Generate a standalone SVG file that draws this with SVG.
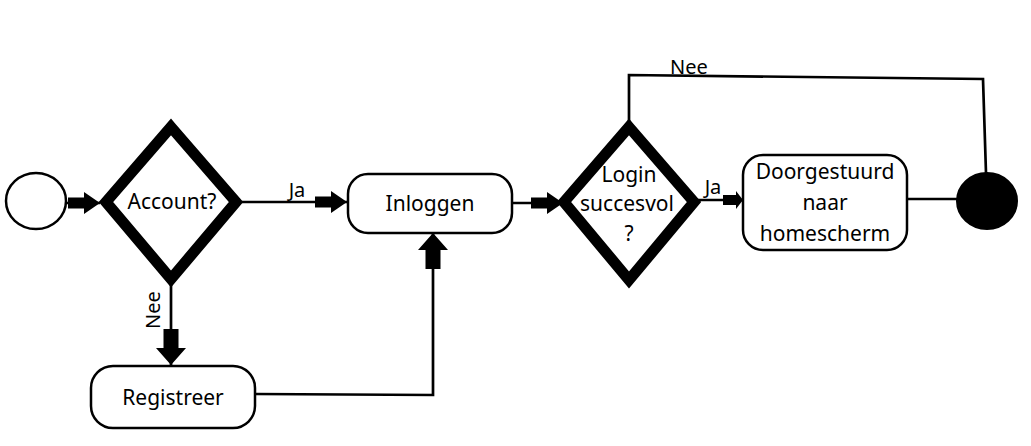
<svg xmlns="http://www.w3.org/2000/svg" width="1031" height="446" viewBox="0 0 1031 446">
<style>
text{font-family:"Noto Sans","Open Sans",sans-serif;font-size:21px;fill:#000;text-anchor:middle;dominant-baseline:central}
.box{fill:#fff;stroke:#000;stroke-width:2.5}
.dia{fill:#fff;stroke:#000;stroke-width:11;stroke-linejoin:miter;stroke-miterlimit:10}
.ln{fill:none;stroke:#000;stroke-width:2.7}
.lbl{font-size:20px}
</style>
<defs>
<marker id="big" markerUnits="userSpaceOnUse" markerWidth="40" markerHeight="40" viewBox="-34 -20 40 40" refX="0" refY="0" orient="auto" overflow="visible">
<path d="M-32,-5.5 H-16 V-11 L0,0 L-16,11 V5.5 H-32 Z" fill="#000"/>
</marker>
<marker id="small" markerUnits="userSpaceOnUse" markerWidth="30" markerHeight="30" viewBox="-24 -15 30 30" refX="0" refY="0" orient="auto" overflow="visible">
<path d="M-20,-5 H-7 V-9 L0,0 L-7,9 V5 H-20 Z" fill="#000"/>
</marker>
<marker id="down" markerUnits="userSpaceOnUse" markerWidth="40" markerHeight="40" viewBox="-40 -20 40 40" refX="0" refY="0" orient="auto" overflow="visible">
<path d="M-36,-7.5 H-17 V-15 L0,0 L-17,15 V7.5 H-36 Z" fill="#000"/>
</marker>
</defs>

<g id="connectors">
<path class="ln" d="M66,203 H100" marker-end="url(#big)"/>
<path class="ln" d="M242,202 H347" marker-end="url(#big)"/>
<path class="ln" d="M513,203 H563" marker-end="url(#big)"/>
<path class="ln" d="M698,200 H743" marker-end="url(#small)"/>
<path class="ln" d="M907,199 H958"/>
<path class="ln" d="M629,122 V75 L983,79 L986,173"/>
<path class="ln" d="M171,285 V365" marker-end="url(#down)"/>
<path class="ln" d="M255,394 L433,395 V233" marker-end="url(#down)"/>
<text class="lbl" x="297" y="189">Ja</text>
<text class="lbl" x="713" y="186">Ja</text>
<text class="lbl" x="689" y="66">Nee</text>
<text class="lbl" transform="translate(152,310) rotate(-90)">Nee</text>
</g>

<g id="start"><ellipse cx="36" cy="201" rx="30" ry="28" fill="#fff" stroke="#000" stroke-width="2.5"/></g>

<g id="account">
<polygon class="dia" points="171,127 236,202 171,279 106,202"/>
<text x="172" y="201">Account?</text>
</g>

<g id="inloggen">
<rect class="box" x="348" y="174" width="164" height="59" rx="20"/>
<text x="430" y="203">Inloggen</text>
</g>

<g id="login">
<polygon class="dia" points="629,127 694,202 629,280 564,202"/>
<text x="629" y="174">Login</text>
<text x="627" y="203">succesvol</text>
<text x="629" y="233">?</text>
</g>

<g id="doorgestuurd">
<rect class="box" x="743" y="155" width="164" height="95" rx="20"/>
<text x="825" y="171">Doorgestuurd</text>
<text x="825" y="202">naar</text>
<text x="825" y="233">homescherm</text>
</g>

<g id="end"><ellipse cx="987" cy="201" rx="30" ry="28" fill="#000" stroke="#000" stroke-width="2"/></g>

<g id="registreer">
<rect class="box" x="91" y="366" width="164" height="62" rx="22"/>
<text x="173" y="397">Registreer</text>
</g>
</svg>
